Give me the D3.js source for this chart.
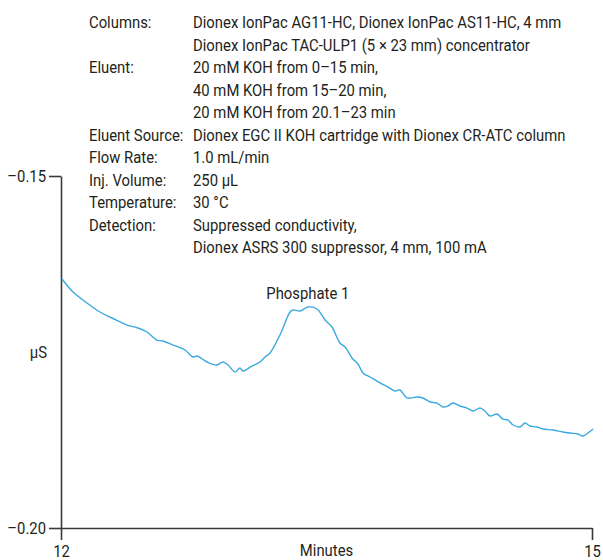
<!DOCTYPE html>
<html>
<head>
<meta charset="utf-8">
<script src="https://cdn.jsdelivr.net/npm/d3@7"></script>
<style>
  body { margin: 0; background: #fff; }
  text { font-family: Roboto, "Liberation Sans", sans-serif; fill: #231f20; font-size: 16.5px; }
</style>
</head>
<body>
<div id="chart"></div>
<script>
var width = 603,
    height = 560,
    squeeze = 0.9;   // fake a condensed face

// chromatogram trace (minutes, µS)
var times = [12.006, 12.068, 12.147, 12.220, 12.288, 12.373, 12.435, 12.486, 12.542, 12.576,
  12.633, 12.701, 12.746, 12.768, 12.825, 12.881, 12.915, 12.944, 12.983, 13.011,
  13.028, 13.079, 13.124, 13.153, 13.181, 13.237, 13.294, 13.311, 13.350, 13.395,
  13.446, 13.492, 13.531, 13.576, 13.605, 13.644, 13.678, 13.706, 13.746, 13.802,
  13.847, 13.887, 13.915, 13.955, 14.011, 14.045, 14.085, 14.124, 14.158, 14.186,
  14.215, 14.254, 14.294, 14.328, 14.367, 14.395, 14.424, 14.463, 14.497, 14.525,
  14.554, 14.593, 14.621, 14.650, 14.689, 14.723, 14.780, 14.836, 14.876, 14.921,
  14.949, 14.977, 15.006];
var signal = [-0.16463, -0.16648, -0.16804, -0.16932, -0.17017, -0.17117, -0.17159, -0.17216, -0.17330, -0.17344,
  -0.17401, -0.17472, -0.17571, -0.17557, -0.17642, -0.17685, -0.17642, -0.17685, -0.17784, -0.17727,
  -0.17770, -0.17699, -0.17642, -0.17571, -0.17514, -0.17259, -0.16932, -0.16903, -0.16918, -0.16861,
  -0.16889, -0.17045, -0.17145, -0.17372, -0.17429, -0.17585, -0.17671, -0.17798, -0.17855, -0.17940,
  -0.17997, -0.18054, -0.18040, -0.18153, -0.18139, -0.18153, -0.18210, -0.18225, -0.18281, -0.18267,
  -0.18225, -0.18267, -0.18296, -0.18338, -0.18296, -0.18338, -0.18409, -0.18381, -0.18452, -0.18466,
  -0.18537, -0.18565, -0.18509, -0.18551, -0.18565, -0.18594, -0.18608, -0.18636, -0.18651, -0.18665,
  -0.18693, -0.18651, -0.18594];

var xTicks = [12, 15],
    yTicks = [-0.15, -0.20];

var peakNames = ["Phosphate 1"],
    peakTimes = [13.40],
    peakHeights = [-0.16861];

var condLabels = ["Columns:", "", "Eluent:", "", "", "Eluent Source:", "Flow Rate:",
  "Inj. Volume:", "Temperature:", "Detection:", ""];
var condValues = ["Dionex IonPac AG11-HC, Dionex IonPac AS11-HC, 4 mm",
  "Dionex IonPac TAC-ULP1 (5 \u00d7 23 mm) concentrator",
  "20 mM KOH from 0\u201315 min,",
  "40 mM KOH from 15\u201320 min,",
  "20 mM KOH from 20.1\u201323 min",
  "Dionex EGC II KOH cartridge with Dionex CR-ATC column",
  "1.0 mL/min",
  "250 \u00b5L",
  "30 \u00b0C",
  "Suppressed conductivity,",
  "Dionex ASRS 300 suppressor, 4 mm, 100 mA"];

var x = d3.scaleLinear().domain([12, 15]).range([61, 592]);
var y = d3.scaleLinear().domain([-0.20, -0.15]).range([528, 176]);

var svg = d3.select("#chart").append("svg")
    .attr("width", width)
    .attr("height", height);

function place(px, py) {
  return "translate(" + px + "," + py + ") scale(" + squeeze + ",1)";
}

// conditions block
var cond = svg.append("g").attr("class", "conditions");
cond.selectAll("text.lab")
    .data(condLabels)
  .enter().append("text")
    .attr("class", "lab")
    .attr("transform", function(d, i) { return place(89, 28 + i * 22.5); })
    .text(function(d) { return d; });
cond.selectAll("text.val")
    .data(condValues)
  .enter().append("text")
    .attr("class", "val")
    .attr("transform", function(d, i) { return place(193, 28 + i * 22.5); })
    .text(function(d) { return d; });

// axes
var yAxis = svg.append("g")
    .attr("transform", "translate(" + x(12) + ",0)")
    .call(d3.axisLeft(y).tickValues(yTicks).tickSize(12).tickSizeOuter(0)
      .tickFormat(function(d) { return "\u2013" + d3.format(".2f")(Math.abs(d)); }));
var xAxis = svg.append("g")
    .attr("transform", "translate(0," + y(-0.20) + ")")
    .call(d3.axisBottom(x).tickValues(xTicks).tickSize(12).tickSizeOuter(0)
      .tickFormat(d3.format("d")));

[yAxis, xAxis].forEach(function(a) {
  a.select(".domain").attr("stroke", "#3a3a3a").attr("stroke-width", 1.6);
  a.selectAll(".tick line").attr("stroke", "#3a3a3a").attr("stroke-width", 1.6);
  a.selectAll(".tick text").attr("fill", "#231f20")
    .style("font-size", "16.5px")
    .style("font-family", "Roboto, sans-serif");
});
yAxis.selectAll(".tick text")
    .attr("x", 0).attr("dy", "0.36em")
    .attr("transform", place(-15, 0));
xAxis.selectAll(".tick text")
    .attr("y", 0).attr("dy", 0)
    .attr("transform", place(0, 29));

svg.append("text")
    .attr("transform", place((x(12) + x(15)) / 2, 556))
    .attr("text-anchor", "middle")
    .text("Minutes");

svg.append("text")
    .attr("transform", place(47, y(-0.175) + 6))
    .attr("text-anchor", "end")
    .text("\u00b5S");

// trace
var line = d3.line()
    .x(function(d) { return x(d[0]); })
    .y(function(d) { return y(d[1]); })
    .curve(d3.curveCatmullRom);

svg.append("path")
    .datum(d3.zip(times, signal))
    .attr("fill", "none")
    .attr("stroke", "#3ba9e0")
    .attr("stroke-width", 1.4)
    .attr("d", line);

svg.selectAll("text.peak")
    .data(peakNames)
  .enter().append("text")
    .attr("class", "peak")
    .attr("transform", function(d, i) { return place(x(peakTimes[i]) - 1, y(peakHeights[i]) - 8); })
    .attr("text-anchor", "middle")
    .text(function(d) { return d; });
</script>
</body>
</html>
